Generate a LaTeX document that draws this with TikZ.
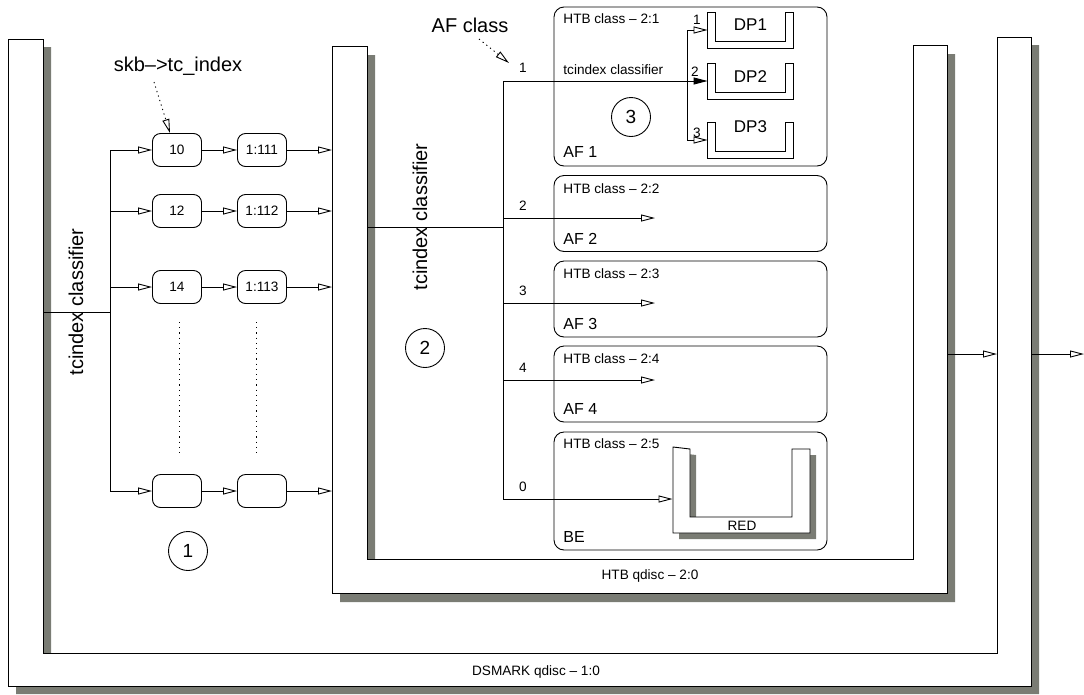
\documentclass[tikz,border=0pt]{standalone}
\usepackage{fontspec}
\setmainfont{Liberation Sans}
\usetikzlibrary{arrows.meta}

\definecolor{shadowgray}{RGB}{122,124,116}

\begin{document}
\begin{tikzpicture}[x=1pt, y=-1pt, line width=0.9pt,
    small/.style={font=\fontsize{13.6}{16}\selectfont, inner sep=0pt},
    mid/.style={font=\fontsize{16}{19}\selectfont, inner sep=0pt},
    big/.style={font=\fontsize{20}{24}\selectfont, inner sep=0pt},
    filt/.style={draw, rounded corners=8pt, minimum width=49pt, minimum height=33pt,
                 inner sep=0pt, font=\fontsize{13.6}{16}\selectfont},
    htbcls/.style={draw, rounded corners=10pt, inner sep=0pt},
    dpq/.style={minimum width=85pt, minimum height=35pt, inner sep=0pt},
    num/.style={draw, circle, minimum size=39pt, inner sep=0pt, font=\fontsize{19}{22}\selectfont},
    arr/.style={-{Triangle[open, length=14pt, width=7pt]}},
    farr/.style={-{Triangle[length=14pt, width=7pt]}},
    darr/.style={arr, dash pattern=on 1.2pt off 3.5pt},
    dots/.style={dash pattern=on 1.2pt off 4pt},
    shade/.style={fill=shadowgray, draw=none}
]
    \useasboundingbox (0,0) rectangle (1084,694);

    % DSMARK qdisc 1:0
    \fill[shade] (16,47) -- (16,694) -- (1039,694) -- (1039,45) -- (1005,45)
        -- (1005,661) -- (51,661) -- (51,47) -- cycle;
    \filldraw[fill=white] (8,39) -- (8,686) -- (1031,686) -- (1031,37) -- (997,37)
        -- (997,653) -- (43,653) -- (43,39) -- cycle;
    \node[small] (dslbl) at (536,672) {DSMARK qdisc -- 1:0};

    % HTB qdisc 2:0
    \fill[shade] (340,55) -- (340,602) -- (955,602) -- (955,54) -- (921,54)
        -- (921,568) -- (375,568) -- (375,55) -- cycle;
    \filldraw[fill=white] (332,46) -- (332,593) -- (947,593) -- (947,45) -- (913,45)
        -- (913,559) -- (367,559) -- (367,46) -- cycle;
    \node[small] (htblbl) at (650,576) {HTB qdisc -- 2:0};

    % tcindex filters of the dsmark qdisc
    \node[big, rotate=90] (tci1) at (76,302) {tcindex classifier};
    \coordinate (dsl) at (43,312);
    \coordinate (split1) at (110,312);
    \draw (dsl) -- (split1);
    \foreach \y/\a/\b [count=\i] in {150/10/1:111, 211/12/1:112, 287/14/1:113, 491//} {
        \node[filt] (idx\i) at (177,\y) {\a};
        \node[filt] (cid\i) at (262,\y) {\b};
        \coordinate (br\i) at (110,\y);
        \coordinate (in\i) at (332,\y);
        \draw[arr] (br\i) -- (idx\i);
        \draw[arr] (idx\i) -- (cid\i);
        \draw[arr] (cid\i) -- (in\i);
    }
    \draw (br1) -- (br4);
    \draw[dots] (179,322) -- (179,453);
    \draw[dots] (256,322) -- (256,453);

    \node[big] (skb) at (178,66) {skb-->tc\_index};
    \coordinate (skbtail) at (154,82);
    \draw[darr] (skbtail) -- ([xshift=-7pt]idx1.north);
    \node[num] (n1) at (188,551) {1};

    % tcindex filter of the htb qdisc
    \node[big, rotate=90] (tci2) at (420,217) {tcindex classifier};
    \node[num] (n2) at (425,348) {2};
    \coordinate (htbl) at (367,227);
    \coordinate (split2) at (503,227);
    \draw (htbl) -- (split2);

    \node[big] (afc) at (470,25) {AF class};
    \coordinate (afctail) at (479,39);
    \draw[darr] (afctail) -- (509,63);

    % AF 1 with its three drop precedences
    \node[htbcls, minimum width=273pt, minimum height=159pt] (af1) at (690.5,86.5) {};
    \node[small, anchor=west] (af1h) at (563,19) {HTB class -- 2:1};
    \node[mid, anchor=west] (af1n) at (563,152) {AF 1};
    \node[small, anchor=west] (tci3) at (563,70) {tcindex classifier};
    \node[num] (n3) at (631,117) {3};
    \foreach \i/\y/\t in {1/30/25, 2/81/77, 3/140/127} {
        \node[dpq] (dp\i) at (750.5,\y) {};
        \draw (dp\i.north west) -- (dp\i.south west) -- (dp\i.south east) -- (dp\i.north east)
            -- ([xshift=-8pt]dp\i.north east) -- ([xshift=-8pt,yshift=7pt]dp\i.south east)
            -- ([xshift=8pt,yshift=7pt]dp\i.south west) -- ([xshift=8pt]dp\i.north west) -- cycle;
        \node[mid, font=\fontsize{17}{20}\selectfont] (dp\i t) at (750.5,\t) {DP\i};
    }
    \coordinate (br0a) at (503,81);
    \coordinate (dpsplit) at (687,81);
    \draw[farr] (br0a) -- (dp2);
    \draw[arr] (dpsplit) |- (dp1);
    \draw[arr] (dpsplit) |- (dp3);
    \node[small] (l1) at (523,68) {1};
    \node[small] (d1) at (697,20) {1};
    \node[small] (d2) at (695,72) {2};
    \node[small] (d3) at (697,133) {3};

    % AF 2 to AF 4
    \foreach \n/\yc/\ya in {2/213.5/218, 3/299/303, 4/384/380} {
        \node[htbcls, minimum width=273pt, minimum height=76pt] (af\n) at (690.5,\yc) {};
        \node[small, anchor=west] (af\n h) at (563,\yc-25) {HTB class -- 2:\n};
        \node[mid, anchor=west] (af\n n) at (563,\yc+25) {AF \n};
        \coordinate (br\n a) at (503,\ya);
        \coordinate (tip\n) at (655,\ya);
        \draw[arr] (br\n a) -- (tip\n);
        \node[small] (l\n) at (523,\ya-12) {\n};
    }

    % best effort with RED
    \node[htbcls, minimum width=273pt, minimum height=118pt] (be) at (690.5,491) {};
    \node[small, anchor=west] (beh) at (563,444) {HTB class -- 2:5};
    \node[mid, anchor=west] (ben) at (563,537) {BE};
    \fill[shade] (679,453) -- (679,539) -- (816,539) -- (816,455) -- (798,455)
        -- (798,523) -- (696,523) -- (696,455) -- cycle;
    \filldraw[fill=white] (673,447) -- (673,533) -- (810,533) -- (810,449) -- (792,449)
        -- (792,517) -- (690,517) -- (690,449) -- cycle;
    \node[minimum width=137pt, minimum height=86pt, inner sep=0pt] (red) at (741.5,490) {};
    \node[small] (redlbl) at (742,526) {RED};
    \coordinate (br5a) at (503,499);
    \draw[arr] (br5a) -- (red.west |- br5a);
    \node[small] (l0) at (523,487) {0};
    \draw (br0a) -- (br5a);

    % output of the qdiscs
    \coordinate (htbr) at (947,354);
    \coordinate (dsr) at (997,354);
    \coordinate (dso) at (1031,354);
    \coordinate (exit) at (1084,354);
    \draw[arr] (htbr) -- (dsr);
    \draw[arr] (dso) -- (exit);
\end{tikzpicture}
\end{document}
